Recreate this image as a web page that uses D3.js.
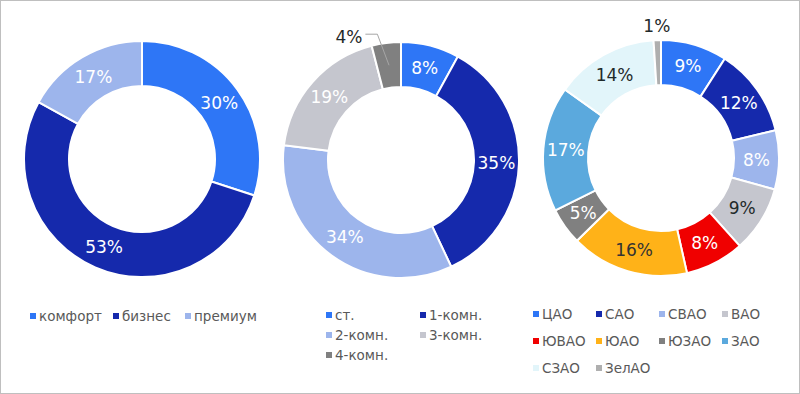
<!DOCTYPE html>
<html>
  <head>
    <meta charset="utf-8">
    <style>
      body { margin: 0; background: #fff; }
      svg { display: block; font-family: "DejaVu Sans", Verdana, sans-serif; }
      .slice { stroke: #fff; stroke-width: 2; }
      .lbl { font-size: 17px; text-anchor: middle; dominant-baseline: central; }
      .legend text { font-size: 13.5px; fill: #595959; dominant-baseline: central; }
    </style>
  </head>
  <body>
    <svg width="800" height="394"></svg>
    <script src="https://d3js.org/d3.v7.min.js"></script>
    <script>
      // класс жилья
      var classNames = ["комфорт", "бизнес", "премиум"];
      var classValues = [30, 53, 17];
      var classColors = ["#2E76F6", "#1529AC", "#9DB5EC"];
      var classText = ["#fff", "#fff", "#fff"];

      // комнатность
      var roomNames = ["ст.", "1-комн.", "2-комн.", "3-комн.", "4-комн."];
      var roomValues = [8, 35, 34, 19, 4];
      var roomColors = ["#2E76F6", "#1529AC", "#9DB5EC", "#C5C6CE", "#808080"];
      var roomText = ["#fff", "#fff", "#fff", "#fff", "#1f2a2a"];

      // округа
      var districtNames = ["ЦАО", "САО", "СВАО", "ВАО", "ЮВАО", "ЮАО", "ЮЗАО", "ЗАО", "СЗАО", "ЗелАО"];
      var districtValues = [9, 12, 8, 9, 8, 16, 5, 17, 14, 1];
      var districtColors = ["#2E76F6", "#1529AC", "#9DB5EC", "#C5C6CE", "#F00000", "#FFB218",
                            "#808080", "#5BA9DD", "#E2F5FA", "#AFAFAF"];
      var districtText = ["#fff", "#fff", "#fff", "#1f2a2a", "#fff", "#333", "#fff", "#fff", "#1f2a2a", "#1f2a2a"];

      var svg = d3.select("svg");

      svg.append("rect")
        .attr("x", 0.5).attr("y", 0.5)
        .attr("width", 799).attr("height", 393)
        .attr("fill", "#fff")
        .attr("stroke", "#BFBFBF");

      var rOuter = 118, rInner = 73;

      var pie = d3.pie().sort(null).value(function(d) { return d; });
      var arc = d3.arc().innerRadius(rInner).outerRadius(rOuter);
      var labelArc = d3.arc().innerRadius((rOuter + rInner) / 2).outerRadius((rOuter + rInner) / 2);

      function drawDonut(cx, cy, values, colors, textColors, outside) {
        var g = svg.append("g").attr("transform", "translate(" + cx + "," + cy + ")");
        var arcs = pie(values);

        g.selectAll("path")
          .data(arcs)
          .enter().append("path")
            .attr("class", "slice")
            .attr("d", arc)
            .attr("fill", function(d, i) { return colors[i]; });

        arcs.forEach(function(d, i) {
          var mid = (d.startAngle + d.endAngle) / 2;
          if (outside[i] === "leader") {
            var c = labelArc.centroid(d);
            var a = mid - 0.06;
            var ex = Math.sin(a) * 128, ey = -Math.cos(a) * 128;
            g.append("polyline")
              .attr("points", [[c[0], c[1]], [ex, ey], [ex - 12, ey]].join(" "))
              .attr("fill", "none")
              .attr("stroke", "#A6A6A6")
              .attr("stroke-width", 1);
            g.append("text")
              .attr("class", "lbl")
              .attr("x", ex - 15).attr("y", ey + 3)
              .attr("text-anchor", "end")
              .style("text-anchor", "end")
              .attr("fill", textColors[i])
              .text(values[i] + "%");
          } else if (outside[i] === "top") {
            g.append("text")
              .attr("class", "lbl")
              .attr("x", Math.sin(mid) * 132)
              .attr("y", -Math.cos(mid) * 132)
              .attr("fill", textColors[i])
              .text(values[i] + "%");
          } else {
            var p = labelArc.centroid(d);
            g.append("text")
              .attr("class", "lbl")
              .attr("x", p[0]).attr("y", p[1])
              .attr("fill", textColors[i])
              .text(values[i] + "%");
          }
        });
      }

      drawDonut(142, 159, classValues, classColors, classText, []);
      drawDonut(401, 160, roomValues, roomColors, roomText, [0, 0, 0, 0, "leader"]);
      drawDonut(661, 158, districtValues, districtColors, districtText,
                [0, 0, 0, 0, 0, 0, 0, 0, 0, "top"]);

      function drawLegend(names, colors, xs, ys, cols) {
        var lg = svg.append("g").attr("class", "legend");
        names.forEach(function(n, i) {
          var x = xs[i % cols], y = ys[Math.floor(i / cols)];
          lg.append("rect")
            .attr("x", x).attr("y", y - 3)
            .attr("width", 6).attr("height", 6)
            .attr("fill", colors[i]);
          lg.append("text")
            .attr("x", x + 9).attr("y", y)
            .text(n);
        });
      }

      svg.append("g");
      // легенды: в одну строку, две колонки и четыре колонки
      drawLegend(classNames, classColors, [30, 113, 185], [316], 3);
      drawLegend(roomNames, roomColors, [326, 420], [315, 335, 355], 2);
      drawLegend(districtNames, districtColors, [533, 596, 659, 722], [314, 341, 368], 4);
    </script>
  </body>
</html>
